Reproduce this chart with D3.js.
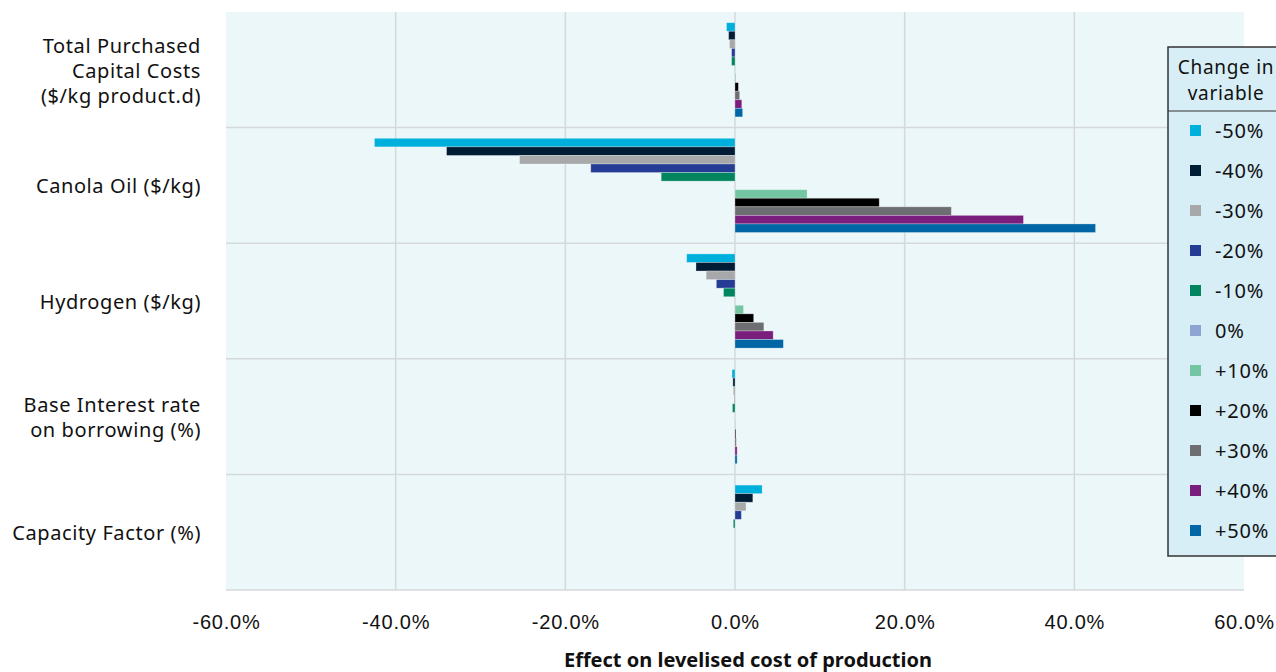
<!DOCTYPE html>
<html>
<head>
<meta charset="utf-8">
<script src="https://cdn.jsdelivr.net/npm/d3@7"></script>
<style>
  body { margin: 0; background: #fff; }
  svg { display: block; font-family: 'Noto Sans', 'Open Sans', sans-serif; }
  .tick text { font-size: 20px; fill: #111; letter-spacing: 0.8px; }
</style>
</head>
<body>
<div id="chart"></div>
<script>
const categories = [
  'Total Purchased|Capital Costs|($/kg product.d)',
  'Canola Oil ($/kg)',
  'Hydrogen ($/kg)',
  'Base Interest rate|on borrowing (%)',
  'Capacity Factor (%)'
];
const seriesNames = ['-50%', '-40%', '-30%', '-20%', '-10%', '0%', '+10%', '+20%', '+30%', '+40%', '+50%'];
const seriesColors = ['#00b0dc', '#001d35', '#a7a8aa', '#243c93', '#008560', '#8ea5d4', '#73c6a1', '#000000', '#6d6e71', '#7a1e7e', '#0066a6'];
// effect (%) per category, one array per series
const values = [
  [-1.0, -42.5, -5.7, -0.35, 3.2],
  [-0.75, -34.0, -4.6, -0.25, 2.1],
  [-0.65, -25.4, -3.4, -0.2, 1.3],
  [-0.4, -17.0, -2.2, -0.05, 0.75],
  [-0.4, -8.7, -1.35, -0.3, -0.2],
  [0, 0, 0, 0, 0],
  [0.1, 8.5, 1.0, 0.05, 0],
  [0.4, 17.0, 2.2, 0.1, 0],
  [0.55, 25.5, 3.4, 0.15, 0],
  [0.8, 34.0, 4.5, 0.25, 0],
  [0.9, 42.5, 5.7, 0.25, 0]
];
const xTicks = [-60, -40, -20, 0, 20, 40, 60];

const W = 1276, H = 672;
const margin = { top: 12, right: 32, bottom: 82, left: 226 };
const width = W - margin.left - margin.right;
const height = H - margin.top - margin.bottom;

const svg = d3.select('#chart').append('svg').attr('width', W).attr('height', H);
const g = svg.append('g').attr('transform', `translate(${margin.left},${margin.top})`);

const x = d3.scaleLinear().domain([-60, 60]).range([0, width]);
const y = d3.scaleBand().domain(categories).range([0, height]).padding(0);
const ySub = d3.scaleBand().domain(seriesNames).range([0, y.bandwidth()])
  .paddingInner(0).paddingOuter(1.25);

g.append('rect').attr('width', width).attr('height', height).attr('fill', '#ecf7f9');

// vertical grid
g.selectAll('.vgrid').data(xTicks.filter(t => t > -60 && t < 60)).enter()
  .append('line')
  .attr('x1', d => x(d)).attr('x2', d => x(d))
  .attr('y1', 0).attr('y2', height)
  .attr('stroke', '#d6d9dc').attr('stroke-width', 1.5);

// category separators
g.selectAll('.hgrid').data(categories.slice(1)).enter()
  .append('line')
  .attr('x1', 0).attr('x2', width)
  .attr('y1', d => y(d)).attr('y2', d => y(d))
  .attr('stroke', '#d6d9dc').attr('stroke-width', 1.5);

g.append('line').attr('x1', 0).attr('x2', width).attr('y1', height).attr('y2', height)
  .attr('stroke', '#d6d9dc').attr('stroke-width', 1.5);

// bars
seriesNames.forEach((s, i) => {
  g.append('g').selectAll('rect')
    .data(categories.map((c, j) => ({ c, v: values[i][j] })))
    .enter().append('rect')
    .attr('x', d => x(Math.min(0, d.v)))
    .attr('width', d => Math.abs(x(d.v) - x(0)))
    .attr('y', d => y(d.c) + ySub(s))
    .attr('height', ySub.bandwidth())
    .attr('fill', seriesColors[i])
    .attr('stroke', 'rgba(255,255,255,0.35)')
    .attr('stroke-width', 0.8);
});

// x axis
const xAxis = g.append('g').attr('transform', `translate(0,${height})`)
  .call(d3.axisBottom(x).tickValues(xTicks).tickSize(0).tickPadding(21)
    .tickFormat(d => d.toFixed(1) + '%'));
xAxis.select('.domain').remove();
xAxis.selectAll('text').attr('dy', '0.9em');

svg.append('text')
  .attr('x', margin.left + x(0) + 13).attr('y', 667)
  .attr('text-anchor', 'middle')
  .style('font-size', '20px').style('font-weight', 'bold').attr('fill', '#111')
  .text('Effect on levelised cost of production');

// category labels
categories.forEach(c => {
  const lines = c.split('|');
  const cy = margin.top + y(c) + y.bandwidth() / 2;
  const t = svg.append('text')
    .attr('text-anchor', 'end')
    .style('font-size', '20px').style('letter-spacing', '0.6px').attr('fill', '#111');
  lines.forEach((l, k) => {
    t.append('tspan')
      .attr('x', 201)
      .attr('y', cy + (k - (lines.length - 1) / 2) * 25)
      .attr('dy', '0.4em')
      .text(l);
  });
});

// legend
const lg = svg.append('g').attr('transform', 'translate(1168,47)');
lg.append('rect').attr('width', 120).attr('height', 509)
  .attr('fill', '#d7eef6').attr('stroke', '#333').attr('stroke-width', 1.5);
lg.append('line').attr('x1', 0).attr('x2', 120).attr('y1', 64).attr('y2', 64)
  .attr('stroke', '#333').attr('stroke-width', 1.2);
lg.append('text').attr('x', 58).attr('y', 27).attr('text-anchor', 'middle')
  .style('font-size', '19px').style('letter-spacing', '0.7px').attr('fill', '#111').text('Change in');
lg.append('text').attr('x', 58).attr('y', 53).attr('text-anchor', 'middle')
  .style('font-size', '19px').style('letter-spacing', '0.7px').attr('fill', '#111').text('variable');

const items = lg.selectAll('.item').data(seriesNames).enter().append('g')
  .attr('transform', (d, i) => `translate(0,${84 + i * 40})`);
items.append('rect').attr('x', 22).attr('y', -6).attr('width', 11).attr('height', 11)
  .attr('fill', (d, i) => seriesColors[i]);
items.append('text').attr('x', 47).attr('dy', '0.36em')
  .style('font-size', '20px').style('letter-spacing', '0.8px').attr('fill', '#111').text(d => d);
</script>
</body>
</html>
